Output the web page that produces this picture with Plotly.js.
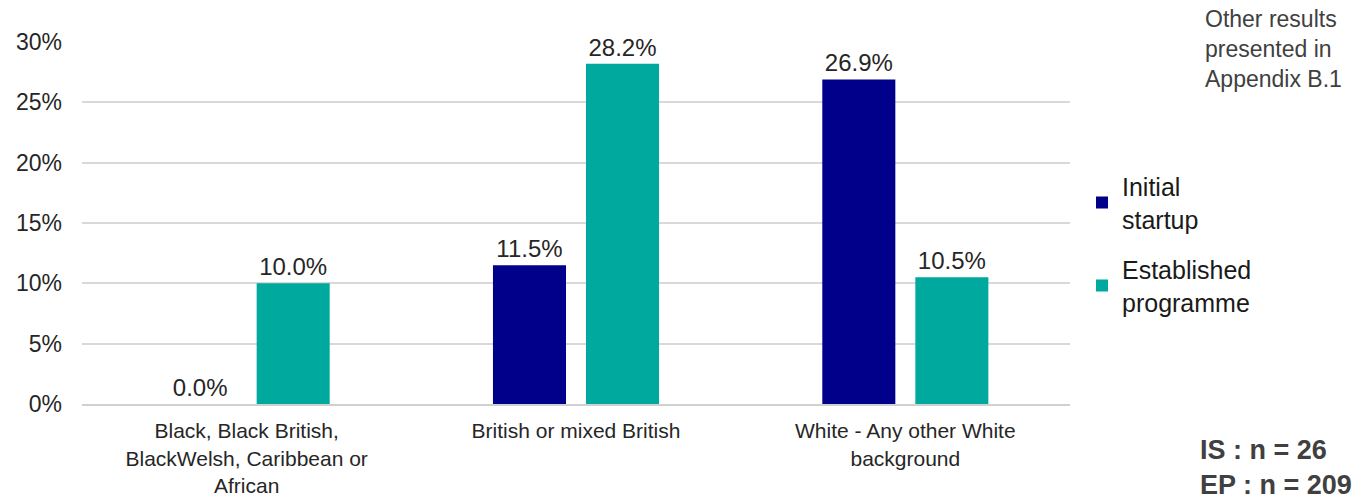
<!DOCTYPE html>
<html><head><meta charset="utf-8">
<script src="https://cdn.plot.ly/plotly-3.0.1.min.js"></script>
<style>body{margin:0;background:#fff}#chart{width:1363px;height:503px}</style>
</head><body><div id="chart"></div>
<script>
const categories = ["Black, Black British,<br>BlackWelsh, Caribbean or<br>African", "British or mixed British", "White - Any other White<br>background"];
const initialStartup = [0.0, 11.5, 26.9];
const establishedProgramme = [10.0, 28.2, 10.5];
const seriesNames = ["Initial<br>startup", "Established<br>programme"];
const yTicks = [0, 5, 10, 15, 20, 25, 30];

const font = "Liberation Sans, Arial, sans-serif";
const W = 1363, H = 503, L = 82, R = 293, T = 42, B = 99;
const pw = W - L - R, ph = H - T - B;
const px = x => (x - L) / pw;
const py = y => (H - B - y) / ph;

const traces = [
  {type:"bar", x:categories, y:initialStartup, name:seriesNames[0], legendgroup:"a", marker:{color:"#00008B"},
   text:initialStartup.map(v=>v.toFixed(1)+"%"), textposition:"outside", cliponaxis:false,
   textfont:{size:24, color:"#262626", family:font}},
  {type:"bar", x:categories, y:establishedProgramme, name:seriesNames[1], legendgroup:"b", marker:{color:"#00A99D"},
   text:establishedProgramme.map(v=>v.toFixed(1)+"%"), textposition:"outside", cliponaxis:false,
   textfont:{size:24, color:"#262626", family:font}}
];
const layout = {
  width:W, height:H,
  margin:{l:L, r:R, t:T, b:B},
  paper_bgcolor:"#fff", plot_bgcolor:"#fff",
  font:{family:font, color:"#262626"},
  barmode:"group", bargap:0.435, bargroupgap:0.215,
  xaxis:{tickfont:{size:21, color:"#262626"}, showline:true, linecolor:"#d0d0d0", linewidth:2, ticks:"", showgrid:false, ticklabelstandoff:7},
  yaxis:{range:[0,30], tickvals:yTicks, ticktext:yTicks.map(v=>v+"%"), tickfont:{size:23, color:"#262626"},
         showgrid:true, gridcolor:"#d9d9d9", gridwidth:2, zeroline:false, ticks:"", ticklen:0, ticklabelstandoff:19},
  showlegend:true,
  legend:{x:px(1082), xanchor:"left", y:py(244), yanchor:"middle", font:{size:25, color:"#1a1a1a"},
          traceorder:"grouped", tracegroupgap:15, itemwidth:30},
  annotations:[
    {xref:"paper", yref:"paper", x:px(1203), y:py(4), xanchor:"left", yanchor:"top",
     text:"Other results<br>presented in<br>Appendix B.1", showarrow:false, align:"left", font:{size:23, color:"#404040"}},
    {xref:"paper", yref:"paper", x:px(1198), y:py(502), xanchor:"left", yanchor:"bottom",
     text:"<b>IS : n = 26</b><br><b>EP : n = 209</b>", showarrow:false, align:"left", font:{size:27, color:"#404040"}}
  ]
};
Plotly.newPlot("chart", traces, layout, {displayModeBar:false, staticPlot:true});
</script>
</body></html>
